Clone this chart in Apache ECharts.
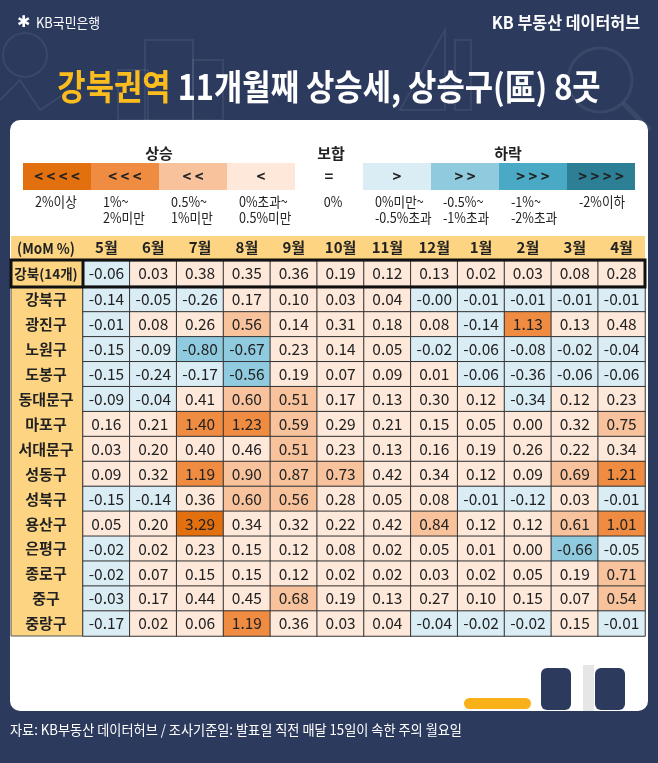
<!DOCTYPE html>
<html>
<head>
<meta charset="utf-8">
<script src="https://cdn.jsdelivr.net/npm/echarts@6/dist/echarts.min.js"></script>
<style>
html,body{margin:0;padding:0;background:#2c3a5e;}
#chart{width:658px;height:763px;}
</style>
</head>
<body>
<div id="chart"></div>
<script>
// ---------- DATA ----------
const months = ['5월','6월','7월','8월','9월','10월','11월','12월','1월','2월','3월','4월'];
const summaryLabel = ['강북(14개)'];
const summaryValues = [-0.06,0.03,0.38,0.35,0.36,0.19,0.12,0.13,0.02,0.03,0.08,0.28];
const districts = ['강북구','광진구','노원구','도봉구','동대문구','마포구','서대문구','성동구','성북구','용산구','은평구','종로구','중구','중랑구'];
const gangbukgu   = [-0.14,-0.05,-0.26,0.17,0.10,0.03,0.04,-0.00,-0.01,-0.01,-0.01,-0.01];
const gwangjingu  = [-0.01,0.08,0.26,0.56,0.14,0.31,0.18,0.08,-0.14,1.13,0.13,0.48];
const nowongu     = [-0.15,-0.09,-0.80,-0.67,0.23,0.14,0.05,-0.02,-0.06,-0.08,-0.02,-0.04];
const dobonggu    = [-0.15,-0.24,-0.17,-0.56,0.19,0.07,0.09,0.01,-0.06,-0.36,-0.06,-0.06];
const dongdaemungu= [-0.09,-0.04,0.41,0.60,0.51,0.17,0.13,0.30,0.12,-0.34,0.12,0.23];
const mapogu      = [0.16,0.21,1.40,1.23,0.59,0.29,0.21,0.15,0.05,0.00,0.32,0.75];
const seodaemungu = [0.03,0.20,0.40,0.46,0.51,0.23,0.13,0.16,0.19,0.26,0.22,0.34];
const seongdonggu = [0.09,0.32,1.19,0.90,0.87,0.73,0.42,0.34,0.12,0.09,0.69,1.21];
const seongbukgu  = [-0.15,-0.14,0.36,0.60,0.56,0.28,0.05,0.08,-0.01,-0.12,0.03,-0.01];
const yongsangu   = [0.05,0.20,3.29,0.34,0.32,0.22,0.42,0.84,0.12,0.12,0.61,1.01];
const eunpyeonggu = [-0.02,0.02,0.23,0.15,0.12,0.08,0.02,0.05,0.01,0.00,-0.66,-0.05];
const jongrogu    = [-0.02,0.07,0.15,0.15,0.12,0.02,0.02,0.03,0.02,0.05,0.19,0.71];
const junggu      = [-0.03,0.17,0.44,0.45,0.68,0.19,0.13,0.27,0.10,0.15,0.07,0.54];
const jungnanggu  = [-0.17,0.02,0.06,1.19,0.36,0.03,0.04,-0.04,-0.02,-0.02,0.15,-0.01];
const districtRows = [gangbukgu,gwangjingu,nowongu,dobonggu,dongdaemungu,mapogu,seodaemungu,seongdonggu,seongbukgu,yongsangu,eunpyeonggu,jongrogu,junggu,jungnanggu];

const legendSymbols = ['< < < <','< < <','< <','<','=','>','> >','> > >','> > > >'];
const legendLabels = ['2%이상','1%~\n2%미만','0.5%~\n1%미만','0%초과~\n0.5%미만','0%','0%미만~\n-0.5%초과','-0.5%~\n-1%초과','-1%~\n-2%초과','-2%이하'];
const legendGroups = ['상승','보합','하락'];

// ---------- STYLE ----------
const FONT = '"Noto Sans CJK KR", "Noto Sans", sans-serif';
const palette = ['#e3700f','#f08c42','#f8c39c','#fde8da',null,'#daedf5','#8fcadf','#4aaac6','#2c7f95'];
const NAVY = '#2c3a5e';
const YELLOW = '#fdd582';
const FAINT = 'rgba(255,255,255,0.07)';

function isNeg(v){ return v < 0 || Object.is(v, -0); }
function cellColor(v){
  if (isNeg(v)) {
    if (v <= -2) return palette[8];
    if (v <= -1) return palette[7];
    if (v <= -0.5) return palette[6];
    return palette[5];
  }
  if (v >= 2) return palette[0];
  if (v >= 1) return palette[1];
  if (v >= 0.5) return palette[2];
  return palette[3];
}
function fmt(v){ return (Object.is(v,-0) ? '-0.00' : v.toFixed(2)); }
function toItems(rows){
  const out = [];
  rows.forEach((row, r) => row.forEach((v, c) => {
    out.push({ value:[c, r, v], itemStyle:{ color: cellColor(v) }, label:{ formatter: fmt(v) } });
  }));
  return out;
}

// ---------- LAYOUT ----------
const GL = 83, GR = 13;           // grid left / right
const SUM_TOP = 261, SUM_H = 25;  // summary row
const DIS_TOP = 287, DIS_H = 349; // district rows
const LEG_X0 = 23, LEG_W = 68, LEG_Y = 163, LEG_H = 27;

const graphics = [];
// faint background illustrations
graphics.push({type:'rect', z:-30, shape:{x:145,y:40,width:48,height:80}, style:{fill:null, stroke:FAINT, lineWidth:2}});
graphics.push({type:'rect', z:-30, shape:{x:118,y:70,width:30,height:50}, style:{fill:null, stroke:FAINT, lineWidth:2}});
graphics.push({type:'rect', z:-30, shape:{x:193,y:60,width:30,height:60}, style:{fill:null, stroke:FAINT, lineWidth:2}});
graphics.push({type:'polygon', z:-30, shape:{points:[[400,110],[445,30],[445,110]]}, style:{fill:null, stroke:FAINT, lineWidth:2}});
graphics.push({type:'rect', z:-30, shape:{x:455,y:40,width:16,height:70}, style:{fill:null, stroke:FAINT, lineWidth:2}});
graphics.push({type:'circle', z:-30, shape:{cx:600,cy:80,r:32}, style:{fill:null, stroke:FAINT, lineWidth:3}});
graphics.push({type:'line', z:-30, shape:{x1:623,y1:103,x2:650,y2:130}, style:{stroke:FAINT, lineWidth:5}});
graphics.push({type:'circle', z:-30, shape:{cx:25,cy:55,r:22}, style:{fill:null, stroke:FAINT, lineWidth:2}});
graphics.push({type:'polyline', z:-30, shape:{points:[[0,100],[20,80],[40,110],[70,90]]}, style:{fill:null, stroke:FAINT, lineWidth:2}});
// card
graphics.push({type:'rect', z:-20, shape:{x:10,y:120,width:638,height:591,r:10}, style:{fill:'#ffffff'}});
// header / label column bands
graphics.push({type:'rect', z:-10, shape:{x:11,y:236,width:634,height:24}, style:{fill:YELLOW}});
graphics.push({type:'rect', z:-10, shape:{x:11,y:260,width:72,height:376}, style:{fill:YELLOW, stroke:'#555', lineWidth:1}});
// thick border around summary row
graphics.push({type:'rect', z:50, shape:{x:11,y:260,width:634,height:27}, style:{fill:null, stroke:'#111', lineWidth:3}});
graphics.push({type:'line', z:50, shape:{x1:83,y1:260,x2:83,y2:287}, style:{stroke:'#111', lineWidth:3}});
// (MoM %)
graphics.push({type:'text', z:10, x:46, y:248, scaleX:0.9, style:{text:'(MoM %)', fill:'#222', font:'bold 15px '+FONT, align:'center', verticalAlign:'middle'}});
// title
graphics.push({type:'text', z:10, x:329, y:87, scaleX:0.88, style:{
  text:'{a|강북권역}{b| 11개월째 상승세, 상승구(區) 8곳}', align:'center', verticalAlign:'middle',
  rich:{ a:{fill:'#fbbd1d', fontSize:35, fontWeight:'bold', fontFamily:FONT}, b:{fill:'#ffffff', fontSize:35, fontWeight:'bold', fontFamily:FONT} }
}});
// top-left logo & top-right brand
graphics.push({type:'text', z:10, x:17, y:23, style:{text:'✱', fill:'#fff', font:'bold 16px "DejaVu Sans"', verticalAlign:'middle'}});
graphics.push({type:'text', z:10, x:36, y:23, scaleX:0.92, style:{text:'KB국민은행', fill:'#fff', font:'14px '+FONT, verticalAlign:'middle'}});
graphics.push({type:'text', z:10, x:640, y:23, scaleX:0.95, style:{text:'KB 부동산 데이터허브', fill:'#fff', font:'bold 17px '+FONT, align:'right', verticalAlign:'middle'}});
// footer
graphics.push({type:'text', z:10, x:10, y:730, scaleX:0.94, style:{text:'자료: KB부동산 데이터허브 / 조사기준일: 발표일 직전 매달 15일이 속한 주의 월요일', fill:'#fff', font:'14px '+FONT, verticalAlign:'middle'}});
// legend
const groupCenters = [159, 331, 508];
legendGroups.forEach((g,i) => graphics.push({type:'text', z:10, x:groupCenters[i], y:153, style:{text:g, fill:'#222', font:'bold 15px '+FONT, align:'center', verticalAlign:'middle'}}));
legendSymbols.forEach((s,i) => {
  const x = LEG_X0 + i*LEG_W;
  if (palette[i]) graphics.push({type:'rect', z:5, shape:{x:x,y:LEG_Y,width:LEG_W,height:LEG_H}, style:{fill:palette[i]}});
  graphics.push({type:'text', z:10, x:x+LEG_W/2, y:LEG_Y+LEG_H/2, style:{text:s, fill:'#222', font:'bold 15px '+FONT, align:'center', verticalAlign:'middle'}});
  const centered = !palette[i];
  graphics.push({type:'text', z:10, x: centered ? x+LEG_W/2+4 : x+12, y:194, scaleX:0.9, style:{text:legendLabels[i], fill:'#222', font:'14px '+FONT, lineHeight:16, align: centered ? 'center':'left', verticalAlign:'top'}});
});
// bottom decoration
graphics.push({type:'rect', z:5, shape:{x:464,y:698,width:67,height:11,r:5.5}, style:{fill:'#f9b11a'}});
graphics.push({type:'rect', z:5, shape:{x:583,y:665,width:11,height:46}, style:{fill:'#e6e6e6'}});
graphics.push({type:'rect', z:5, shape:{x:541,y:668,width:30,height:42,r:6}, style:{fill:NAVY}});
graphics.push({type:'rect', z:5, shape:{x:595,y:668,width:30,height:42,r:6}, style:{fill:NAVY}});

const cellLabel = {show:true, color:'#222', fontSize:15.5, fontFamily:FONT};
const cellItem = {borderColor:'#333', borderWidth:1};
const yLabel = {color:'#222', fontSize:15, fontWeight:'bold', fontFamily:FONT, align:'center', margin:37};
const yLabelSummary = {color:'#222', fontSize:13.5, fontWeight:'bold', fontFamily:FONT, align:'center', margin:37};

const chart = echarts.init(document.getElementById('chart'), null, {renderer:'canvas'});
chart.setOption({
  backgroundColor: NAVY,
  animation:false,
  textStyle:{fontFamily:FONT},
  graphic: graphics,
  grid:[
    {left:GL, right:GR, top:SUM_TOP, height:SUM_H},
    {left:GL, right:GR, top:DIS_TOP, height:DIS_H}
  ],
  xAxis:[
    {type:'category', gridIndex:0, data:months, position:'top', z:20,
     axisLine:{show:false}, axisTick:{show:false}, splitLine:{show:false},
     axisLabel:{color:'#222', fontSize:15, fontWeight:'bold', fontFamily:FONT, margin:6}},
    {type:'category', gridIndex:1, data:months, show:false}
  ],
  yAxis:[
    {type:'category', gridIndex:0, data:summaryLabel, z:20, axisLine:{show:false}, axisTick:{show:false}, splitLine:{show:false}, axisLabel:yLabelSummary},
    {type:'category', gridIndex:1, data:districts, inverse:true, z:20, axisLine:{show:false}, axisTick:{show:false}, splitLine:{show:false}, axisLabel:yLabel}
  ],
  series:[
    {type:'heatmap', xAxisIndex:0, yAxisIndex:0, data:toItems([summaryValues]), label:cellLabel, itemStyle:cellItem, emphasis:{disabled:true}, z:5},
    {type:'heatmap', xAxisIndex:1, yAxisIndex:1, data:toItems(districtRows), label:cellLabel, itemStyle:cellItem, emphasis:{disabled:true}, z:5}
  ]
});
</script>
</body>
</html>
